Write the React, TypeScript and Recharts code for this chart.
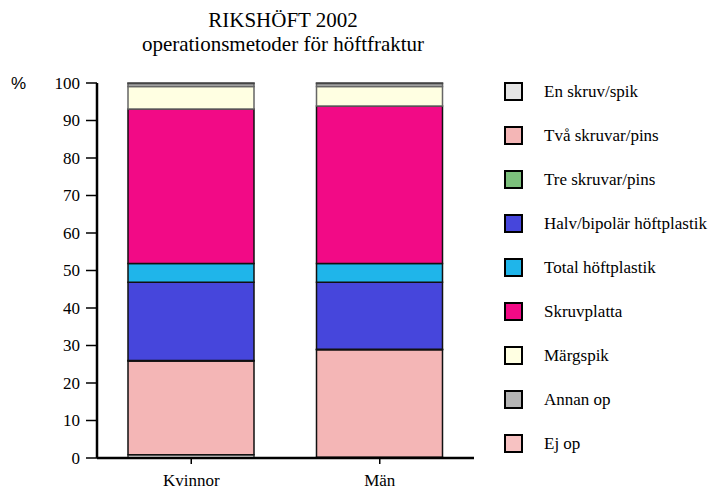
import React from "react";
import { BarChart, Bar, XAxis, YAxis } from "recharts";

const categories = ["Kvinnor", "Män"];

// percent of operations, bottom of stack first
const enSkruv = [0.9, 0.2];
const tvaSkruvar = [25.0, 28.7];
const treSkruvar = [0.1, 0.1];
const halvBipolar = [20.9, 17.9];
const totalPlastik = [5.0, 5.0];
const skruvplatta = [41.2, 42.0];
const margspik = [6.0, 5.2];
const annanOp = [0.8, 0.8];
const ejOp = [0.1, 0.1];

const yTicks = [0, 10, 20, 30, 40, 50, 60, 70, 80, 90, 100];

const series = [
  { key: "en", name: "En skruv/spik", values: enSkruv, color: "#e4e4e4", stroke: "#444" },
  { key: "tva", name: "Två skruvar/pins", values: tvaSkruvar, color: "#f4b6b6", stroke: "#111" },
  { key: "tre", name: "Tre skruvar/pins", values: treSkruvar, color: "#7cc07c", stroke: "#111" },
  { key: "halv", name: "Halv/bipolär höftplastik", values: halvBipolar, color: "#4646dc", stroke: "#111" },
  { key: "total", name: "Total höftplastik", values: totalPlastik, color: "#1fb5ea", stroke: "#111" },
  { key: "skruv", name: "Skruvplatta", values: skruvplatta, color: "#f20a86", stroke: "#111" },
  { key: "marg", name: "Märgspik", values: margspik, color: "#ffffe2", stroke: "#666" },
  { key: "annan", name: "Annan op", values: annanOp, color: "#b4b4b4", stroke: "#666" },
  { key: "ej", name: "Ej op", values: ejOp, color: "#f7c2c2", stroke: "#444" },
];

const data = categories.map((cat, i) => {
  const row: any = { cat };
  series.forEach((s) => {
    row[s.key] = s.values[i];
  });
  return row;
});

const serif = "Liberation Serif";

const XTick = ({ x, y, payload }: any) => (
  <text x={x} y={y} dy="0.71em" textAnchor="middle" fontFamily={serif} fontSize={17} fill="#000">
    {payload.value}
  </text>
);

const YTick = ({ x, y, payload }: any) => (
  <text x={x} y={y} dy="0.35em" textAnchor="end" fontFamily={serif} fontSize={17} fill="#000">
    {payload.value}
  </text>
);

export default function App() {
  return (
    <div
      style={{
        position: "absolute",
        left: 0,
        top: 0,
        width: 710,
        height: 489,
        background: "#fff",
        fontFamily: serif,
      }}
    >
      <div
        style={{
          position: "absolute",
          left: 83,
          width: 400,
          top: 8,
          textAlign: "center",
          fontSize: 21,
          lineHeight: "24px",
          color: "#000",
        }}
      >
        RIKSHÖFT 2002
        <br />
        operationsmetoder för höftfraktur
      </div>
      <div
        style={{
          position: "absolute",
          left: 11,
          top: 74,
          fontFamily: "Liberation Sans",
          fontSize: 17,
          color: "#000",
        }}
      >
        %
      </div>

      <BarChart
        width={710}
        height={489}
        data={data}
        margin={{ top: 83, right: 236, bottom: 0, left: 0 }}
        style={{ position: "absolute", left: 0, top: 0 }}
      >
        <XAxis
          dataKey="cat"
          height={31}
          axisLine={{ stroke: "#000", strokeWidth: 2.5 }}
          tickLine={{ stroke: "#000", strokeWidth: 1.5 }}
          tickSize={6}
          tickMargin={10}
          tick={<XTick />}
        />
        <XAxis
          xAxisId="top"
          orientation="top"
          dataKey="cat"
          height={0}
          tick={false}
          tickLine={false}
          axisLine={{ stroke: "#000", strokeWidth: 2 }}
        />
        <YAxis
          domain={[0, 100]}
          ticks={yTicks}
          interval={0}
          width={97}
          axisLine={{ stroke: "#000", strokeWidth: 2.5 }}
          tickLine={{ stroke: "#000", strokeWidth: 1.5 }}
          tickSize={11}
          tickMargin={6}
          tick={<YTick />}
        />
        <YAxis
          yAxisId="right"
          orientation="right"
          domain={[0, 100]}
          width={0}
          tick={false}
          tickLine={false}
          axisLine={{ stroke: "#000", strokeWidth: 2 }}
        />
        {series.map((s) => (
          <Bar
            key={s.key}
            dataKey={s.key}
            name={s.name}
            stackId="a"
            fill={s.color}
            stroke={s.stroke}
            strokeWidth={1.5}
            barSize={126}
            isAnimationActive={false}
          />
        ))}
      </BarChart>

      {series.map((s, i) => (
        <div
          key={s.key}
          style={{
            position: "absolute",
            left: 504,
            top: 82 + i * 44,
            height: 19,
            display: "flex",
            alignItems: "center",
          }}
        >
          <div
            style={{
              width: 15,
              height: 15,
              background: s.color,
              border: "2px solid #000",
            }}
          />
          <span style={{ marginLeft: 21, fontSize: 17, color: "#000", whiteSpace: "nowrap" }}>
            {s.name}
          </span>
        </div>
      ))}
    </div>
  );
}
